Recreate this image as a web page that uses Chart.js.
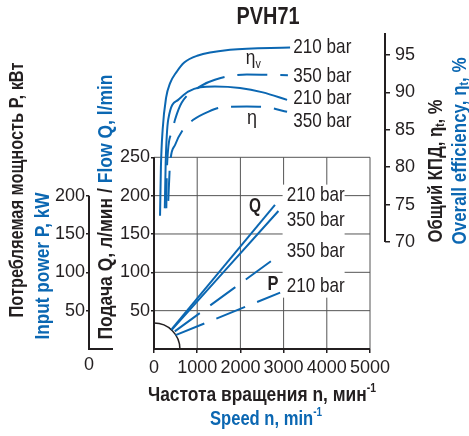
<!DOCTYPE html>
<html>
<head>
<meta charset="utf-8">
<script src="https://cdn.jsdelivr.net/npm/chart.js@4.4.1/dist/chart.umd.min.js"></script>
</head>
<body style="margin:0;background:#fff">
<canvas id="c" width="469" height="436"></canvas>
<script>
const speedTicks = [0, 1000, 2000, 3000, 4000, 5000];
const flowTicks = [50, 100, 150, 200, 250];
const powerTicks = [50, 100, 150, 200];
const effTicks = [70, 75, 80, 85, 90, 95];

// speed n (min-1) -> flow Q (l/min)
const flowQ210 = [[410, 26], [2800, 188]];
const flowQ350 = [[410, 25], [2880, 180]];
// speed n -> input power P (kW)
const powerP350 = [[480, 23], [2900, 122.5]];
const powerP210 = [[500, 18], [2920, 73.5]];
// speed n -> efficiency (%)
const etaV210 = [[140, 73.5], [160, 80], [200, 85], [280, 89.3], [370, 91.2], [530, 92.8], [700, 94.0], [1000, 94.9], [1760, 95.7], [3150, 96.0]];
const etaV350 = [[285, 74.5], [300, 80], [410, 84.6], [490, 86.4], [640, 88.6], [1100, 90.9], [1410, 91.7], [2150, 92.4], [3100, 92.3]];
const etaT210 = [[250, 74.5], [270, 80.5], [330, 86.4], [560, 89.0], [790, 90.1], [1070, 90.7], [1410, 90.8], [1990, 90.6], [2520, 90.0], [3080, 89.0]];
const etaT350 = [[330, 75.5], [370, 80.3], [490, 83.0], [670, 85.0], [900, 86.3], [1250, 87.4], [1570, 88.0], [2150, 88.1], [2620, 88.0], [3080, 87.4]];

const blue = '#0b67b2';
const ink = '#231f20';
const gridGray = '#555555';
const SANS = '"Liberation Sans", Arial, sans-serif';
const B20 = 'bold 20px ' + SANS;
const B12 = 'bold 12px ' + SANS;
const R21 = '21px ' + SANS;
const R13 = '13px ' + SANS;

function series(pts, axis, dash) {
    return {
        data: pts.map(([x, y]) => ({x, y})),
        yAxisID: axis,
        borderColor: blue,
        borderWidth: 2,
        borderDash: dash || [],
        pointRadius: 0,
        cubicInterpolationMode: 'monotone',
        fill: false
    };
}

function rich(ctx, parts, cx, cy, opt) {
    opt = opt || {};
    ctx.save();
    ctx.translate(cx, cy);
    ctx.rotate(opt.rot || 0);
    ctx.textBaseline = 'middle';
    ctx.textAlign = 'left';
    let w = 0;
    parts.forEach(p => { ctx.font = p[1]; w += ctx.measureText(p[0]).width; });
    const k = opt.width ? opt.width / w : 1;
    ctx.scale(k, 1);
    let px = opt.left ? 0 : -w / 2;
    parts.forEach(([t, f, c, dy]) => {
        ctx.font = f;
        ctx.fillStyle = c;
        ctx.fillText(t, px, dy || 0);
        px += ctx.measureText(t).width;
    });
    ctx.restore();
}

const decor = {
    id: 'decor',
    beforeDatasetsDraw(chart) {
        const {ctx, scales: {x, yQ, yP, yE}} = chart;
        const X = v => x.getPixelForValue(v);
        const Q = v => yQ.getPixelForValue(v);
        ctx.save();
        ctx.strokeStyle = gridGray;
        ctx.lineWidth = 1;
        ctx.beginPath();
        flowTicks.forEach(v => { ctx.moveTo(X(0), Q(v)); ctx.lineTo(X(5000), Q(v)); });
        speedTicks.slice(1).forEach(v => { ctx.moveTo(X(v), Q(0)); ctx.lineTo(X(v), Q(250)); });
        ctx.stroke();

        ctx.strokeStyle = ink;
        ctx.lineWidth = 2;
        ctx.beginPath();
        ctx.moveTo(X(0), Q(250));
        ctx.lineTo(X(0), Q(0));
        ctx.lineTo(X(5000), Q(0));
        ctx.moveTo(yP.right, yP.getPixelForValue(200));
        ctx.lineTo(yP.right, Q(0));
        ctx.lineTo(yP.right + 24, Q(0));
        ctx.moveTo(yE.left, yE.top);
        ctx.lineTo(yE.left, yE.getPixelForValue(70));
        ctx.stroke();

        ctx.lineWidth = 1.5;
        ctx.beginPath();
        ctx.arc(X(0), Q(0), X(600) - X(0), -Math.PI / 2, 0);
        ctx.stroke();
        ctx.restore();
    },
    afterDatasetsDraw(chart) {
        const {ctx, scales: {x, yQ, yP, yE}} = chart;
        const X = v => x.getPixelForValue(v);
        const Q = v => yQ.getPixelForValue(v);
        const E = v => yE.getPixelForValue(v);
        const tag = (t, px, py) => rich(ctx, [[t, R21, ink]], px, py, {left: true, width: 58});
        ctx.save();

        // white patch behind the Q / P labels
        ctx.fillStyle = '#fff';
        ctx.fillRect(X(3000) - 1, Q(200) - 11, 62, Q(81.3) - Q(200) + 22);
        tag('210 bar', X(3072), Q(200));
        tag('350 bar', X(3072), Q(168.4));
        tag('350 bar', X(3072), Q(127));
        tag('210 bar', X(3072), Q(81.3));

        tag('210 bar', X(3225), E(96.1));
        tag('350 bar', X(3225), E(92.1));
        tag('210 bar', X(3225), E(89.2));
        tag('350 bar', X(3225), E(86.1));

        rich(ctx, [['Q', B20, ink]], X(2340), Q(186), {width: 12});
        rich(ctx, [['P', B20, ink]], X(2755), yP.getPixelForValue(83.5), {width: 11});
        rich(ctx, [['η', R21, ink], ['v', R13, ink, 6]], X(2300), E(94.6), {width: 15});
        rich(ctx, [['η', R21, ink]], X(2270), E(86.6), {width: 10});

        rich(ctx, [['0', '18px ' + SANS, ink]], yP.right, x.top + 16);

        rich(ctx, [['PVH71', 'bold 24px ' + SANS, ink]], 268, 17, {width: 63});
        rich(ctx, [['Частота вращения n, мин', B20, ink], ['-1', B12, ink, -6]], 262, 395, {width: 228});
        rich(ctx, [['Speed n, min', B20, blue], ['-1', B12, blue, -6]], 266, 419, {width: 112});

        const up = -Math.PI / 2;
        rich(ctx, [['Потребляемая мощность P, кВт', B20, ink]], 17, 190, {rot: up, width: 255});
        rich(ctx, [['Input power P, kW', B20, blue]], 43, 266, {rot: up, width: 147});
        rich(ctx, [['Подача Q, л/мин / ', B20, ink], ['Flow Q, l/min', B20, blue]], 106, 207, {rot: up, width: 265});
        rich(ctx, [['Общий КПД, η', B20, ink], ['t', B12, ink, 5], [', %', B20, ink]], 436, 171, {rot: up, width: 143});
        rich(ctx, [['Overall efficiency, η', B20, blue], ['t', B12, blue, 5], [', %', B20, blue]], 460, 151, {rot: up, width: 187});
        ctx.restore();
    }
};

const tickFont = {family: SANS, size: 18};
const fixTicks = list => scale => { scale.ticks = list.map(v => ({value: v})); };
const plain = v => String(v);

new Chart(document.getElementById('c'), {
    type: 'line',
    data: {
        datasets: [
            series(flowQ210, 'yQ'),
            series(flowQ350, 'yQ'),
            series(powerP350, 'yP', [31, 13]),
            series(powerP210, 'yP', [31, 13]),
            series(etaV210, 'yE'),
            series(etaV350, 'yE', [30, 13]),
            series(etaT210, 'yE'),
            series(etaT350, 'yE', [30, 13])
        ]
    },
    options: {
        responsive: false,
        animation: false,
        devicePixelRatio: 1,
        layout: {padding: {top: 33, left: 0, right: 0, bottom: 0}},
        plugins: {legend: {display: false}, tooltip: {enabled: false}},
        scales: {
            x: {
                type: 'linear', min: 0, max: 5347,
                afterBuildTicks: fixTicks(speedTicks),
                afterFit: s => { s.height = 87; },
                grid: {drawOnChartArea: false, drawTicks: true, tickLength: 4, color: ink, lineWidth: 1.5},
                border: {display: false},
                ticks: {font: tickFont, color: ink, padding: 4, maxRotation: 0, autoSkip: false, callback: plain}
            },
            yQ: {
                type: 'linear', position: 'left', weight: 0, min: 0, max: 412.1,
                afterBuildTicks: fixTicks(flowTicks),
                afterFit: s => { s.width = 65; },
                grid: {drawOnChartArea: false, drawTicks: true, tickLength: 3, color: ink, lineWidth: 1.5},
                border: {display: false},
                ticks: {font: tickFont, color: ink, padding: 1, callback: plain}
            },
            yP: {
                type: 'linear', position: 'left', weight: 1, min: 0, max: 412.1,
                afterBuildTicks: fixTicks(powerTicks),
                afterFit: s => { s.width = 89; },
                grid: {drawOnChartArea: false, drawTicks: true, tickLength: 3, color: ink, lineWidth: 1.5},
                border: {display: false},
                ticks: {font: tickFont, color: ink, padding: 1, callback: plain}
            },
            yE: {
                type: 'linear', position: 'right', min: 55.69, max: 97.94,
                afterBuildTicks: fixTicks(effTicks),
                afterFit: s => { s.width = 84; },
                grid: {drawOnChartArea: false, drawTicks: true, tickLength: 5, color: ink, lineWidth: 1.5},
                border: {display: false},
                ticks: {font: tickFont, color: ink, padding: 5, callback: plain}
            }
        }
    },
    plugins: [decor]
});
</script>
</body>
</html>
